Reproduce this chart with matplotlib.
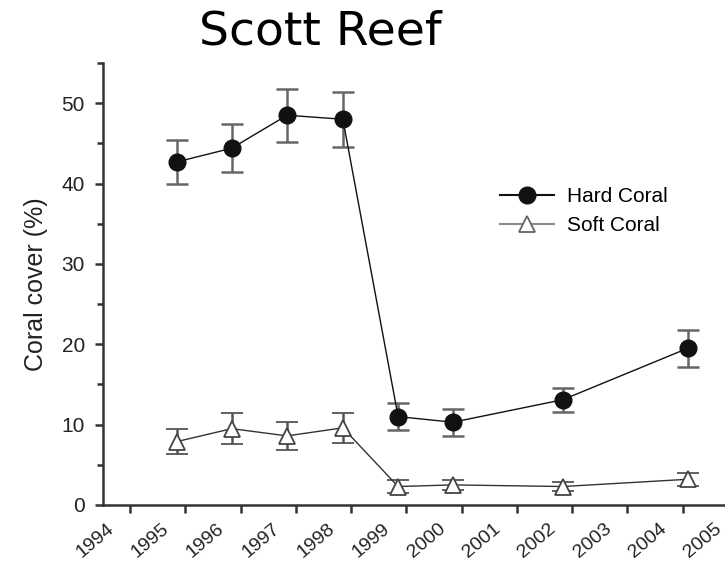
import numpy as np
import matplotlib
matplotlib.use('Agg')
import matplotlib.pyplot as plt
from matplotlib.ticker import MultipleLocator
from matplotlib.lines import Line2D
from matplotlib.transforms import ScaledTranslation

# ---- data ----
hard_x = [1994.85, 1995.84, 1996.84, 1997.85, 1998.85, 1999.84, 2001.83, 2004.09]
hard_y = [42.7, 44.4, 48.5, 48.0, 11.0, 10.3, 13.1, 19.5]
hard_err = [2.7, 3.0, 3.3, 3.4, 1.7, 1.7, 1.5, 2.3]

soft_x = [1994.85, 1995.84, 1996.84, 1997.85, 1998.85, 1999.84, 2001.83, 2004.09]
soft_y = [7.9, 9.5, 8.6, 9.6, 2.3, 2.5, 2.3, 3.2]
soft_err = [1.6, 1.9, 1.7, 1.9, 0.8, 0.6, 0.6, 0.8]

years = list(range(1994, 2006))

fig = plt.figure(figsize=(7.25, 5.65), dpi=100)
ax = fig.add_axes([103/725, 60/565, 635/725, (505-63)/565])

ax.errorbar(hard_x, hard_y, yerr=hard_err, fmt='o-', color='#111111', ms=12,
            lw=1, ecolor='#666666', elinewidth=1.8, capsize=8, capthick=1.8,
            zorder=3)
ax.errorbar(soft_x, soft_y, yerr=soft_err, fmt='^-', color='#333333', mfc='white',
            mec='#444444', mew=1.3, ms=12, lw=1, ecolor='#555555',
            elinewidth=1.8, capsize=8, capthick=1.8, zorder=3)

ax.set_xlim(1993.51, 2005.0)
ax.set_ylim(0, 55)
ax.set_xticks(years)
ax.set_xticklabels([])
# slanted year labels, sitting a little left of their ticks
lab_tr = ax.get_xaxis_transform() + ScaledTranslation(-0.24, -0.15, fig.dpi_scale_trans)
for y in years:
    ax.text(y, 0, str(y), transform=lab_tr, rotation=40, ha='right', va='top',
            rotation_mode='anchor', fontsize=14, family='Liberation Sans',
            color='#222222', clip_on=False)

ax.yaxis.set_major_locator(MultipleLocator(10))
ax.yaxis.set_minor_locator(MultipleLocator(5))
for t in ax.get_yticklabels():
    t.set_family('Liberation Sans')
    t.set_fontsize(15)
    t.set_color('#222222')
ax.tick_params(axis='both', which='major', length=6, width=1.8,
               direction='out', color='#333333')
ax.tick_params(axis='y', which='minor', length=4, width=1.8,
               direction='out', color='#333333')
ax.tick_params(axis='y', pad=7)

ax.spines['top'].set_visible(False)
ax.spines['right'].set_visible(False)
ax.spines['left'].set_linewidth(1.8)
ax.spines['bottom'].set_linewidth(1.8)
ax.spines['left'].set_color('#333333')
ax.spines['bottom'].set_color('#333333')

ax.set_ylabel('Coral cover (%)', fontsize=18, family='Liberation Sans',
              labelpad=10, color='#222222')

handles = [Line2D([], [], color='#111111', marker='o', ms=12, lw=1.5),
           Line2D([], [], color='#888888', marker='^', ms=11, mfc='white',
                  mec='#666666', mew=1.3, lw=1.5)]
ax.legend(handles, ['Hard Coral', 'Soft Coral'], loc='center left',
          bbox_to_anchor=(0.625, 0.665), frameon=False,
          prop={'family': 'Liberation Sans', 'size': 15},
          handlelength=2.6, handletextpad=0.6, labelspacing=0.5,
          borderpad=0, borderaxespad=0)

fig.text(320/725, 1 - 32/565, 'Scott Reef', ha='center', va='center',
         fontsize=34, family='DejaVu Sans')

fig.savefig('out.png', dpi=100)
